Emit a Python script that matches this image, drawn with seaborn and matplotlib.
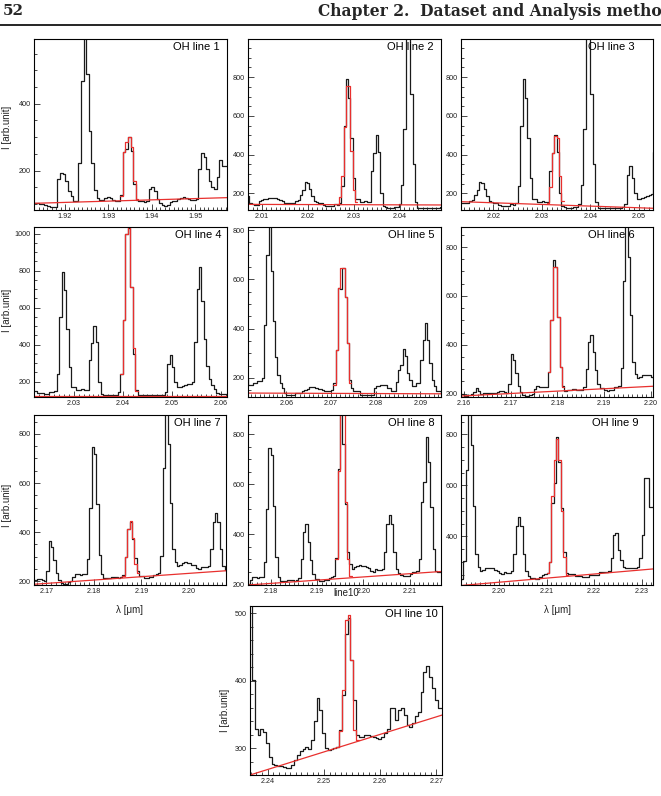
import numpy as np
import matplotlib
matplotlib.use('Agg')
import matplotlib.pyplot as plt
import seaborn as sns
from matplotlib.lines import Line2D
from matplotlib.ticker import MultipleLocator, FormatStrFormatter

# ========== spectrum segments (first bin edge, bin width, counts per bin) ==========
seg_a_start, seg_a_width = 1.9129, 0.0006
seg_a_flux = [102, 102, 100, 100, 98, 95, 92, 90, 92, 174,
              194, 190, 170, 140, 125, 108, 110, 222, 467, 700,
              490, 320, 222, 142, 117, 112, 112, 118, 120, 117,
              112, 110, 110, 127, 257, 265, 300, 260, 160, 112,
              110, 108, 106, 110, 145, 150, 138, 115, 102, 97,
              95, 97, 105, 108, 110, 114, 117, 120, 118, 115,
              112, 112, 115, 205, 252, 242, 205, 170, 150, 145,
              180, 232, 215, 215]

seg_b_start, seg_b_width = 2.005, 0.0005
seg_b_flux = [200, 195, 185, 150, 145, 140, 140, 160, 165, 170,
              172, 176, 178, 178, 176, 170, 165, 158, 152, 150,
              148, 148, 152, 162, 168, 190, 215, 258, 255, 225,
              185, 160, 155, 150, 148, 140, 137, 136, 135, 135,
              144, 142, 150, 240, 550, 793, 694, 486, 279, 171,
              171, 157, 157, 162, 153, 153, 315, 409, 499, 414,
              200, 135, 128, 126, 126, 126, 127, 128, 144, 243,
              531, 1000, 1030, 712, 351, 153, 126, 126, 126, 126,
              126, 126, 126, 126, 126, 126, 130, 144, 297, 342,
              280, 200, 171, 171, 178, 180, 186, 189, 198, 414,
              700, 820, 635, 430, 283, 212, 180, 158, 140, 131,
              131, 131, 131, 138, 138, 138, 145, 152, 155, 162,
              162, 162, 158, 154, 154, 152, 147, 145, 145, 149,
              179, 314, 564, 560, 645, 530, 341, 192, 160, 145,
              145, 145, 131, 131, 131, 131, 131, 131, 158, 168,
              168, 172, 172, 172, 158, 158, 145, 145, 185, 230,
              253, 316, 287, 219, 192, 165, 165, 179, 179, 273,
              354, 422, 354, 260, 192, 165, 145, 145, 140]

seg_c_start, seg_c_width = 2.159, 0.0005
seg_c_flux = [197, 197, 189, 189, 195, 200, 205, 221, 211, 200,
              203, 203, 203, 203, 204, 204, 206, 210, 210, 205,
              203, 240, 364, 338, 285, 232, 205, 194, 191, 191,
              196, 200, 218, 231, 228, 225, 228, 228, 290, 500,
              745, 718, 514, 309, 230, 212, 214, 215, 218, 218,
              216, 215, 216, 225, 300, 411, 440, 371, 296, 241,
              222, 221, 213, 212, 216, 216, 225, 228, 232, 305,
              660, 950, 760, 520, 330, 280, 262, 268, 275, 277,
              275, 275, 268, 265, 255, 251, 260, 257, 258, 263,
              330, 440, 477, 440, 330, 262, 245, 237, 235, 233,
              233, 240, 248, 251, 255, 300, 530, 610, 791, 690,
              510, 340, 255, 251, 251, 251, 246, 246, 246, 242,
              242, 242, 248, 248, 248, 250, 259, 259, 261, 261,
              265, 314, 405, 412, 346, 307, 281, 274, 274, 274,
              274, 276, 281, 314, 405, 627, 630, 516, 516]

seg_d_start, seg_d_width = 2.2367, 0.0005
seg_d_flux = [520, 401, 329, 320, 329, 324, 307, 287, 277, 275,
              274, 274, 272, 271, 271, 275, 282, 290, 295, 298,
              302, 298, 312, 340, 374, 356, 322, 300, 297, 298,
              300, 302, 327, 379, 470, 493, 431, 371, 319, 317,
              317, 319, 319, 318, 317, 315, 314, 317, 322, 329,
              359, 360, 342, 356, 360, 349, 334, 332, 337, 347,
              354, 384, 413, 422, 406, 389, 371, 360, 360]

segments = {
    'a': (seg_a_start, seg_a_width, seg_a_flux),
    'b': (seg_b_start, seg_b_width, seg_b_flux),
    'c': (seg_c_start, seg_c_width, seg_c_flux),
    'd': (seg_d_start, seg_d_width, seg_d_flux),
}

# ========== panels ==========
panel_titles = ['OH line 1', 'OH line 2', 'OH line 3', 'OH line 4', 'OH line 5',
                'OH line 6', 'OH line 7', 'OH line 8', 'OH line 9', 'OH line 10']
panel_segment = ['a', 'b', 'b', 'b', 'b', 'c', 'c', 'c', 'c', 'd']
# wavelength calibration offset of each panel
panel_shift = [0.0, 0.0008, -0.0015, 0.0, 0.0005, 0.0, 0.0005, 0.0005, -0.0010, 0.0]
panel_xlim = [(1.9129, 1.9573), (2.0070, 2.0490), (2.0133, 2.0529), (2.0219, 2.0612),
              (2.0514, 2.0946), (2.1594, 2.2004), (2.1674, 2.2078), (2.1751, 2.2168),
              (2.1920, 2.2324), (2.23685, 2.2710)]
panel_ylim = [(82, 594), (114, 997), (114, 997), (117, 1036), (122, 813),
              (186, 882), (185, 877), (197, 877), (209, 876), (260, 511)]
y_major = [200, 200, 200, 200, 200, 200, 200, 200, 200, 100]
y_minor = [50, 50, 50, 50, 50, 50, 50, 50, 50, 20]

# fit: linear background at the panel edges + fitted line bins
fit_base = [(102, 119), (143, 140), (157, 123), (122, 122), (138, 135),
            (190, 230), (188, 243), (197, 251), (207, 272), (260, 349)]
fit_first_bin = [33, 41, 55, 69, 130, 38, 53, 69, 104, 31]
fit_peak = [
    [125, 257, 285, 300, 270, 170, 115],
    [145, 180, 290, 545, 755, 755, 420, 217, 155],
    [150, 235, 407, 497, 484, 290, 160],
    [243, 531, 1000, 1045, 712, 380, 150],
    [172, 314, 564, 645, 645, 530, 341, 180],
    [289, 500, 718, 718, 514, 309, 225],
    [222, 300, 413, 447, 375, 270, 235],
    [300, 655, 960, 880, 530, 300, 232],
    [255, 300, 560, 700, 780, 700, 500, 320, 250],
    [302, 326, 386, 490, 498, 431, 327, 312],
]

# ========== layout (pixels: left, top, right, bottom) ==========
W, H = 661, 796
boxes = [(34, 39, 227, 210), (248, 39, 441, 210), (461, 39, 653, 210),
         (34, 227, 227, 397), (248, 227, 441, 397), (461, 227, 653, 397),
         (34, 415, 226, 585), (248, 415, 441, 585), (461, 415, 653, 585),
         (250, 606, 442, 775)]
title_margin = [7, 7, 18, 6, 7, 18, 6, 6, 15, 4]

sns.set_theme(style='white')
plt.rcParams['font.family'] = ['Liberation Sans', 'DejaVu Sans']

black = '#1a1a1a'
red = '#e8302e'

fig = plt.figure(figsize=(W / 100, H / 100), dpi=100)

for k in range(10):
    l, t, r, b = boxes[k]
    ax = fig.add_axes([l / W, 1 - b / H, (r - l) / W, (b - t) / H])
    start, width, flux = segments[panel_segment[k]]
    edges = start + panel_shift[k] + width * np.arange(len(flux) + 1)

    sns.lineplot(x=edges, y=flux + [flux[-1]], drawstyle='steps-post',
                 estimator=None, sort=False, color=black, lw=0.9, ax=ax)
    sns.lineplot(x=list(panel_xlim[k]), y=list(fit_base[k]),
                 estimator=None, sort=False, color=red, lw=0.9, ax=ax)
    i0 = fit_first_bin[k]
    vals = fit_peak[k]
    sns.lineplot(x=edges[i0:i0 + len(vals) + 1], y=vals + [vals[-1]],
                 drawstyle='steps-post', estimator=None, sort=False,
                 color=red, lw=0.9, ax=ax)

    ax.set_xlim(panel_xlim[k])
    ax.set_ylim(panel_ylim[k])
    ax.set_xlabel('')
    ax.set_ylabel('')
    ax.set_facecolor('white')
    for s in ax.spines.values():
        s.set_visible(True)
        s.set_color('black')
        s.set_linewidth(0.8)

    ax.xaxis.set_major_locator(MultipleLocator(0.01))
    ax.xaxis.set_minor_locator(MultipleLocator(0.001))
    ax.xaxis.set_major_formatter(FormatStrFormatter('%.2f'))
    ax.yaxis.set_major_locator(MultipleLocator(y_major[k]))
    ax.yaxis.set_minor_locator(MultipleLocator(y_minor[k]))
    ax.yaxis.set_major_formatter(FormatStrFormatter('%d'))
    ax.tick_params(which='both', direction='in', bottom=True, left=True,
                   top=False, right=False, labelsize=5.2, pad=2.2,
                   colors='black', labelcolor='#222222', width=0.5)
    ax.tick_params(which='major', length=4)
    ax.tick_params(which='minor', length=2)

    ax.text(1 - title_margin[k] / (r - l), 1 - 3 / (b - t), panel_titles[k],
            transform=ax.transAxes, ha='right', va='top', fontsize=8, color='black')

# axis titles
for x, y in [(7, 127), (7, 310), (7, 505), (225, 710)]:
    fig.text(x / W, 1 - y / H, 'I [arb.unit]', rotation=90, ha='center', va='center',
             fontsize=7, color='#222222')
for x in [129, 557]:
    fig.text(x / W, 1 - 610 / H, 'λ [μm]', ha='center', va='center', fontsize=7,
             color='#222222')
fig.text(346 / W, 1 - 593 / H, 'line10', ha='center', va='center', fontsize=7,
         color='#222222')

# page header (the page is cropped at the right, as in the source scan)
fig.text(3 / W, 1 - 11 / H, '52', ha='left', va='center', fontsize=11,
         fontweight='bold', family='DejaVu Serif')
fig.text(318 / W, 1 - 11 / H, 'Chapter 2.  Dataset and Analysis metho', ha='left',
         va='center', fontsize=11.2, fontweight='bold', family='DejaVu Serif')
fig.add_artist(Line2D([0, 1], [1 - 25 / H, 1 - 25 / H], transform=fig.transFigure,
                      color='black', lw=1.2))

fig.savefig('out.png', dpi=100, facecolor='white')
